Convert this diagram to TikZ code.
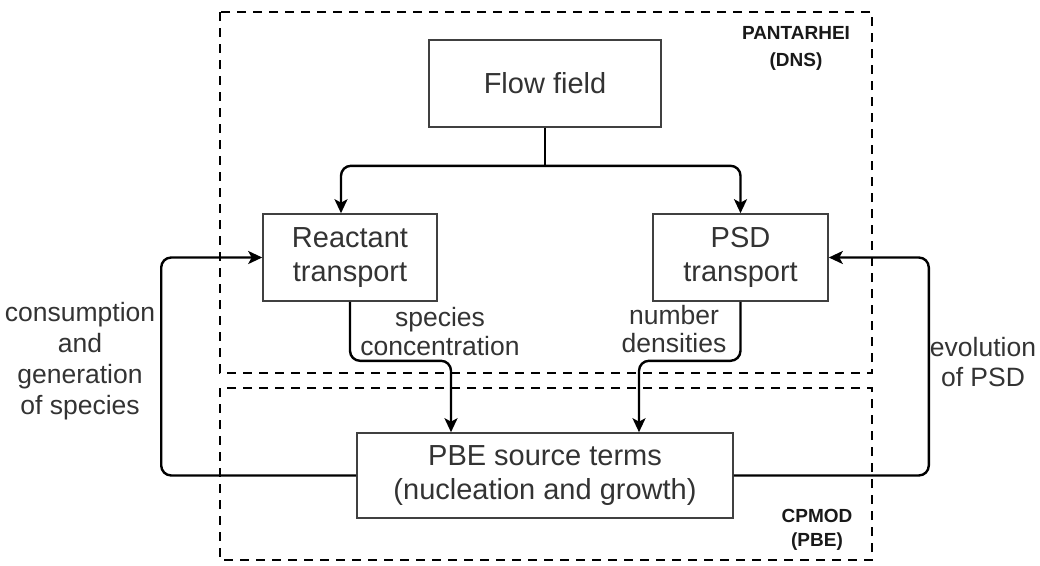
\documentclass[tikz,border=0pt]{standalone}
\usepackage{fontspec}
\setmainfont{Liberation Sans}
\usetikzlibrary{arrows.meta,calc}

\begin{document}
\begin{tikzpicture}[x=1pt,y=-1pt]
	\tikzset{box/.style={draw=black!75, line width=1.6pt, text=black!80, align=center, font=\fontsize{29}{34}\selectfont},
	         link/.style={line width=2.4pt, rounded corners=10pt},
	         arrow/.style={link, -{Stealth[length=14pt, width=13pt, inset=3.5pt]}},
	         zone/.style={line width=2.9pt, dash pattern=on 9pt off 7pt},
	         lbl/.style={align=center, text=black!80, font=\fontsize{26.5}{30}\selectfont},
	         tag/.style={align=center, text=black!90, font=\bfseries\fontsize{19}{27}\selectfont}}
	\useasboundingbox (0,0) rectangle (1040,565);
	% solver regions
	\draw[zone] (220,12) rectangle (872,373);
	\draw[zone] (220,388) rectangle (872,560);
	\node[tag] (dnstag) at (796,48) {PANTARHEI\\(DNS)};
	\node[tag, font=\bfseries\fontsize{19}{24}\selectfont] (pbetag) at (817,530) {CPMOD\\(PBE)};
	
	% boxes
	\node[box, minimum width=232pt, minimum height=87pt] (flow) at (545,83.5) {Flow field};
	\node[box, minimum width=174pt, minimum height=87pt] (react) at (350,257.5) {Reactant\\transport};
	\node[box, minimum width=175pt, minimum height=87pt] (psd) at (740.5,257.5) {PSD\\transport};
	\node[box, minimum width=376pt, minimum height=85pt] (pbe) at (545,475.5) {PBE source terms\\(nucleation and growth)};
	
	% flow field to both transports
	\draw[link] (flow.south) -- ++(0,38) coordinate (fork);
	\draw[arrow] (fork) -| ([xshift=-9pt]react.north);
	\draw[arrow] (fork) -| (psd.north);
	
	% transports to source terms
	\draw[arrow] (react.south) -- ++(0,59) -| ([xshift=-94pt]pbe.north);
	\draw[arrow] (psd.south) -- ++(0,59) -| ([xshift=94pt]pbe.north);
	\node[lbl, font=\fontsize{26.5}{29}\selectfont] (conc) at (440,332) {species\\concentration};
	\node[lbl, font=\fontsize{26.5}{28}\selectfont] (dens) at (674,329) {number\\densities};
	
	% feedback loops
	\draw[arrow] (pbe.west) -| ($(react.west)+(-101,0)$) -- (react.west);
	\draw[arrow] (pbe.east) -| ($(psd.east)+(100,0)$) -- (psd.east);
	\node[lbl, font=\fontsize{26.5}{31}\selectfont] (cons) at (80,361) {consumption\\and\\generation\\of species};
	\node[lbl] (evol) at (983,362) {evolution\\of PSD};
\end{tikzpicture}
\end{document}
